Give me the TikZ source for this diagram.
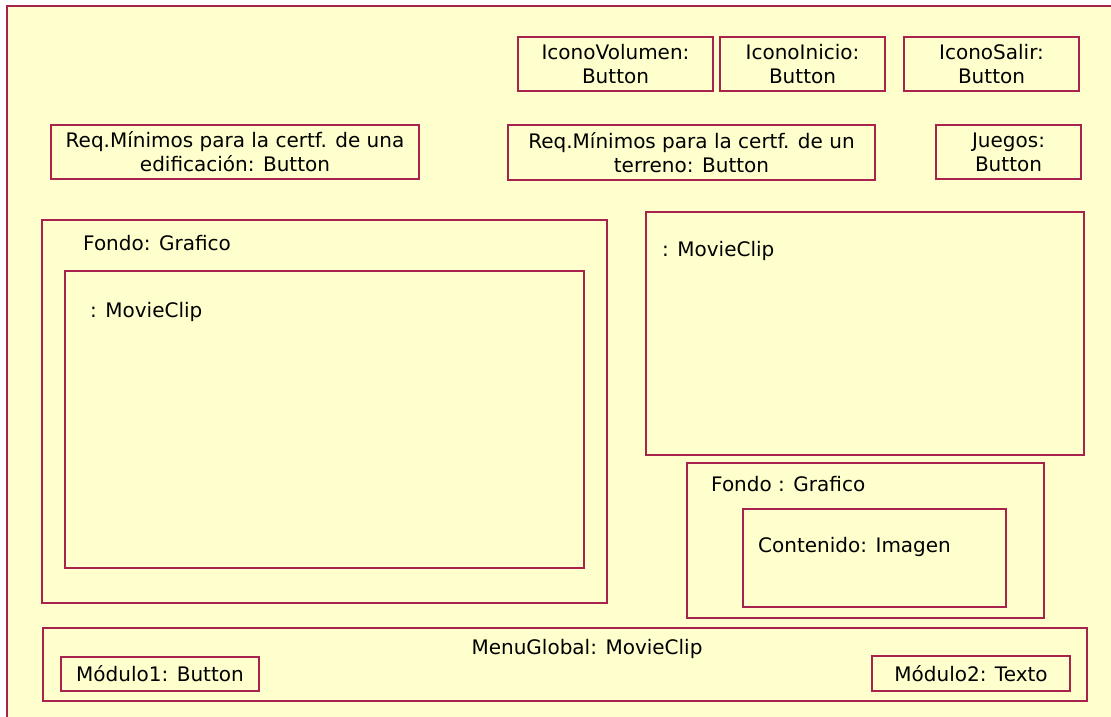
\documentclass[tikz,border=0pt]{standalone}
\usepackage{fontspec}
\setmainfont{DejaVu Sans}
\definecolor{frame}{RGB}{168,34,78}
\definecolor{paper}{RGB}{255,255,206}
\begin{document}
\begin{tikzpicture}[x=1pt,y=-1pt,
  box/.style={draw=frame, line width=2pt, fill=paper, anchor=north west, inner sep=0pt,
    align=center, font=\fontsize{20}{24}\selectfont, text=black},
  lbl/.style={anchor=west, inner sep=0pt, font=\fontsize{20}{24}\selectfont, text=black}]
\useasboundingbox (0,0) rectangle (1111,717);
\fill[white] (0,0) rectangle (1111,717);
\fill[paper] (7,6) rectangle (1111,717);
\draw[frame, line width=2pt] (7,717) -- (7,6) -- (1111,6);
% top buttons
\node[box, minimum width=195, minimum height=54] (vol) at (517,36) {IconoVolumen:\\Button};
\node[box, minimum width=165, minimum height=54] (ini) at (719,36) {IconoInicio:\\Button};
\node[box, minimum width=175, minimum height=54] (sal) at (903,36) {IconoSalir:\\Button};
\node[box, minimum width=368, minimum height=54] (edif) at (50,124) {Req.Mínimos para la certf. de una\\edificación: Button};
\node[box, minimum width=367, minimum height=55] (terr) at (507,124) {Req.Mínimos para la certf. de un\\terreno: Button};
\node[box, minimum width=145, minimum height=54] (jue) at (935,124) {Juegos:\\Button};
% left background
\node[box, minimum width=565, minimum height=383] (fondoA) at (41,219) {};
\node[lbl] (fondoAl) at (83,243) {Fondo: Grafico};
\node[box, minimum width=519, minimum height=297] (mcA) at (64,270) {};
\node[lbl] (mcAl) at (90,312) {: MovieClip};
% right movie clip
\node[box, minimum width=438, minimum height=243] (mcB) at (645,211) {};
\node[lbl] (mcBl) at (662,251) {: MovieClip};
% right background
\node[box, minimum width=357, minimum height=155] (fondoB) at (686,462) {};
\node[lbl] (fondoBl) at (711,484) {Fondo : Grafico};
\node[box, minimum width=263, minimum height=98] (cont) at (742,508) {};
\node[lbl] (contl) at (758,547) {Contenido: Imagen};
% menu
\node[box, minimum width=1044, minimum height=73] (menu) at (42,627) {};
\node[lbl, anchor=center] (menul) at (587,649) {MenuGlobal: MovieClip};
\node[box, minimum width=198, minimum height=34] (mod1) at (60,656) {Módulo1: Button};
\node[box, minimum width=198, minimum height=35] (mod2) at (871,655) {Módulo2: Texto};
\end{tikzpicture}
\end{document}
